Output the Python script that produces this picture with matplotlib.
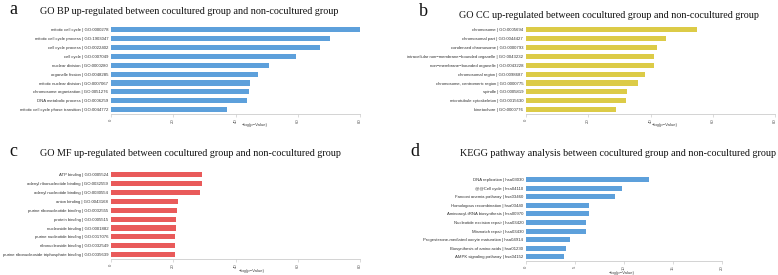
import matplotlib
matplotlib.use('Agg')
import matplotlib.pyplot as plt

W, H = 778, 275

# Panel a: GO BP
bp_terms = ['mitotic cell cycle | GO:0000278', 'mitotic cell cycle process | GO:1903047',
            'cell cycle process | GO:0022402', 'cell cycle | GO:0007049',
            'nuclear division | GO:0000280', 'organelle fission | GO:0048285',
            'mitotic nuclear division | GO:0007067', 'chromosome organization | GO:0051276',
            'DNA metabolic process | GO:0006259', 'mitotic cell cycle phase transition | GO:0044772']
bp_values = [79.9, 70.3, 67.1, 59.3, 50.8, 47.3, 44.8, 44.3, 43.6, 37.4]

# Panel b: GO CC
cc_terms = ['chromosome | GO:0005694', 'chromosomal part | GO:0044427',
            'condensed chromosome | GO:0000793',
            'intracellular non\u2212membrane\u2212bounded organelle | GO:0043232',
            'non\u2212membrane\u2212bounded organelle | GO:0043228',
            'chromosomal region | GO:0098687', 'chromosome, centromeric region | GO:0000775',
            'spindle | GO:0005819', 'microtubule cytoskeleton | GO:0015630',
            'kinetochore | GO:0000776']
cc_values = [54.8, 45.0, 42.0, 41.0, 41.0, 38.1, 36.0, 32.3, 32.1, 28.9]

# Panel c: GO MF
mf_terms = ['ATP binding | GO:0005524', 'adenyl ribonucleotide binding | GO:0032559',
            'adenyl nucleotide binding | GO:0030554', 'anion binding | GO:0043168',
            'purine ribonucleotide binding | GO:0032555', 'protein binding | GO:0005515',
            'nucleoside binding | GO:0001882', 'purine nucleotide binding | GO:0017076',
            'ribonucleoside binding | GO:0032549',
            'purine ribonucleoside triphosphate binding | GO:0035639']
mf_values = [29.1, 29.1, 28.7, 21.6, 21.2, 21.0, 20.9, 20.7, 20.7, 20.7]

# Panel d: KEGG
kegg_terms = ['DNA replication | hsa03030', '@@Cell cycle | hsa04110',
              'Fanconi anemia pathway | hsa03460', 'Homologous recombination | hsa03440',
              'Aminoacyl-tRNA biosynthesis | hsa00970', 'Nucleotide excision repair | hsa03420',
              'Mismatch repair | hsa03430', 'Progesterone-mediated oocyte maturation | hsa04914',
              'Biosynthesis of amino acids | hsa01230', 'AMPK signaling pathway | hsa04152']
kegg_values = [12.55, 9.76, 9.12, 6.46, 6.46, 6.09, 6.09, 4.49, 4.08, 3.88]

titles = ['GO BP up-regulated between cocultured group and non-cocultured group',
          'GO CC up-regulated between cocultured group and non-cocultured group',
          'GO MF up-regulated between cocultured group and non-cocultured group',
          'KEGG pathway analysis between cocultured group and non-cocultured group']
letters = ['a', 'b', 'c', 'd']

fig = plt.figure(figsize=(W / 100, H / 100), dpi=100)


def px_axes(x0, x1, ytop, ybot):
    return fig.add_axes([x0 / W, 1 - ybot / H, (x1 - x0) / W, (ybot - ytop) / H])


def draw_panel(ax, terms, values, color, xmax, ticks):
    ypos = list(range(len(terms)))
    ax.barh(ypos, values, height=0.58, color=color)
    ax.set_ylim(len(terms) - 0.5, -0.5)
    ax.set_xlim(0, xmax)
    ax.set_yticks(ypos)
    ax.set_yticklabels(terms, fontsize=3.05, color='#333333', family='Liberation Sans')
    ax.tick_params(axis='y', length=0, pad=2)
    ax.set_xticks(ticks)
    ax.set_xticklabels([str(t) for t in ticks], rotation=90, fontsize=3.1,
                       color='#555555', family='Liberation Sans')
    ax.tick_params(axis='x', length=2, width=0.5, color='#cccccc', pad=1.5)
    for s in ['top', 'right', 'left']:
        ax.spines[s].set_visible(False)
    ax.spines['bottom'].set_color('#cccccc')
    ax.spines['bottom'].set_linewidth(0.6)
    ax.set_facecolor('none')


blue = '#5DA0DB'
yellow = '#DCCB47'
red = '#E95A5A'

ax_a = px_axes(111, 360, 25.5, 114)
draw_panel(ax_a, bp_terms, bp_values, blue, 80, [0, 20, 40, 60, 80])
ax_b = px_axes(526, 775, 25.5, 114)
draw_panel(ax_b, cc_terms, cc_values, yellow, 80, [0, 20, 40, 60, 80])
ax_c = px_axes(111, 360, 170.5, 259)
draw_panel(ax_c, mf_terms, mf_values, red, 80, [0, 20, 40, 60, 80])
ax_d = px_axes(526, 722, 175.5, 261)
draw_panel(ax_d, kegg_terms, kegg_values, blue, 20, [0, 5, 10, 15, 20])

# x labels
xl = '\u2212log(p\u2212Value)'
xl_pos = [(255, 125), (665, 125), (252, 271), (622, 273)]
for x, y in xl_pos:
    fig.text(x / W, 1 - y / H, xl, fontsize=3.1, color='#444444', ha='center', va='center',
             family='Liberation Sans')

# titles and panel letters
title_pos = [(40, 11), (459, 15), (40, 153), (460, 154)]
letter_pos = [(9, 10), (419, 11), (9, 152), (410, 151)]
for t, (tx, ty), l, (lx, ly) in zip(titles, title_pos, letters, letter_pos):
    fig.text(tx / W, 1 - ty / H, t, fontsize=7.3, family='Liberation Serif',
             ha='left', va='center', color='#111111')
    fig.text(lx / W, 1 - ly / H, l, fontsize=13, family='Liberation Serif',
             ha='left', va='center', color='#111111')

fig.savefig('out.png', dpi=100, facecolor='white')
